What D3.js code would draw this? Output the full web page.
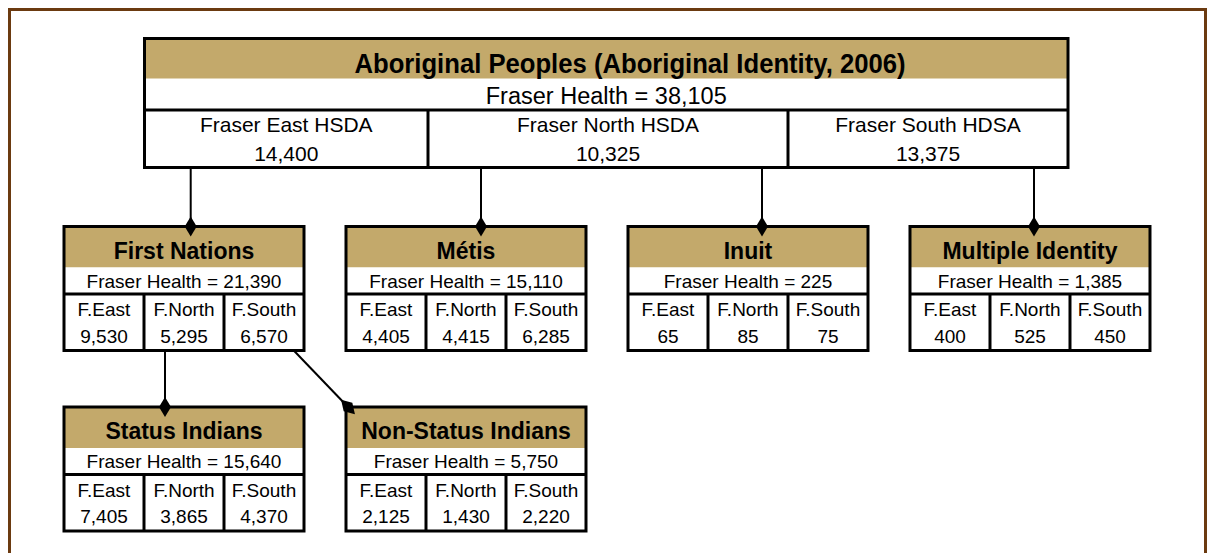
<!DOCTYPE html>
<html>
<head>
<meta charset="utf-8">
<script src="https://cdn.jsdelivr.net/npm/d3@7"></script>
<style>
  body { margin: 0; background: #fff; }
  text { font-family: "Liberation Sans", Arial, sans-serif; fill: #000; }
</style>
</head>
<body>
<div id="chart"></div>
<script>
// data
const title = "Aboriginal Peoples (Aboriginal Identity, 2006)";
const totalLabel = "Fraser Health";
const fhTotal = 38105;
const hsdaNames = ["Fraser East HSDA", "Fraser North HSDA", "Fraser South HDSA"];
const hsdaValues = [14400, 10325, 13375];

const groups = ["First Nations", "Métis", "Inuit", "Multiple Identity", "Status Indians", "Non-Status Indians"];
const groupTotals = [21390, 15110, 225, 1385, 15640, 5750];
const eastValues = [9530, 4405, 65, 400, 7405, 2125];
const northValues = [5295, 4415, 85, 525, 3865, 1430];
const southValues = [6570, 6285, 75, 450, 4370, 2220];
const cellLabels = ["F.East", "F.North", "F.South"];

const W = 1207, H = 553;
const tan = "#c3a96b";
const fmt = d3.format(",");

const svg = d3.select("#chart").append("svg")
  .attr("width", W).attr("height", H);

// brown frame
svg.append("rect")
  .attr("x", 9.5).attr("y", 9.5)
  .attr("width", 1196).attr("height", 600)
  .attr("fill", "none").attr("stroke", "#6b3a10").attr("stroke-width", 3);

// main box
const main = { x0: 144.5, x1: 1068, y0: 38.5, tanBottom: 78.5, rowBottom: 110, y1: 167.5 };
const hsdaBreaks = [main.x0, 428, 788, main.x1];

const mg = svg.append("g");
mg.append("rect").attr("x", main.x0).attr("y", main.y0)
  .attr("width", main.x1 - main.x0).attr("height", main.tanBottom - main.y0)
  .attr("fill", tan);
mg.append("text").attr("x", 630).attr("y", 73)
  .attr("text-anchor", "middle").attr("font-weight", "bold")
  .attr("font-size", 27.5).attr("textLength", 551).attr("lengthAdjust", "spacingAndGlyphs")
  .text(title);
mg.append("text").attr("x", (main.x0 + main.x1) / 2).attr("y", 104)
  .attr("text-anchor", "middle").attr("font-size", 23.5)
  .text(totalLabel + " = " + fmt(fhTotal));

const hsda = mg.selectAll(".hsda").data(hsdaNames).enter().append("g");
hsda.append("text")
  .attr("x", (d, i) => (hsdaBreaks[i] + hsdaBreaks[i + 1]) / 2).attr("y", 132)
  .attr("text-anchor", "middle").attr("font-size", 21)
  .text(d => d);
hsda.append("text")
  .attr("x", (d, i) => (hsdaBreaks[i] + hsdaBreaks[i + 1]) / 2).attr("y", 161)
  .attr("text-anchor", "middle").attr("font-size", 21)
  .text((d, i) => fmt(hsdaValues[i]));

mg.append("line").attr("x1", main.x0).attr("x2", main.x1)
  .attr("y1", main.rowBottom).attr("y2", main.rowBottom)
  .attr("stroke", "#000").attr("stroke-width", 3);
mg.selectAll(".div").data(hsdaBreaks.slice(1, 3)).enter().append("line")
  .attr("x1", d => d).attr("x2", d => d)
  .attr("y1", main.rowBottom).attr("y2", main.y1)
  .attr("stroke", "#000").attr("stroke-width", 3);
mg.append("rect").attr("x", main.x0).attr("y", main.y0)
  .attr("width", main.x1 - main.x0).attr("height", main.y1 - main.y0)
  .attr("fill", "none").attr("stroke", "#000").attr("stroke-width", 3);

// child boxes
const boxW = 240, boxH = 124;
const col = d3.scaleBand().domain([0, 1, 2, 3]).range([64, 1150]).paddingInner(0.1489);
const rowY = [226.5, 407];
const boxes = groups.map((name, i) => ({
  name, i,
  x: col(i < 4 ? i : i - 4),
  y: rowY[i < 4 ? 0 : 1]
}));
const cellX = d3.scaleBand().domain(cellLabels).range([0, boxW]);

function diamond(g, cx, cy, rot) {
  g.append("path")
    .attr("d", "M0,-10L6,0L0,10L-6,0Z")
    .attr("transform", "translate(" + cx + "," + cy + ") rotate(" + rot + ")")
    .attr("fill", "#000");
}

// connectors
const lines = svg.append("g").attr("stroke", "#000").attr("stroke-width", 2);
const connOffset = [126.7, 135, 134, 124];
boxes.slice(0, 4).forEach((b, i) => {
  const cx = b.x + connOffset[i];
  lines.append("line").attr("x1", cx).attr("x2", cx)
    .attr("y1", main.y1).attr("y2", b.y);
});
const fn = boxes[0], st = boxes[4], ns = boxes[5];
lines.append("line").attr("x1", fn.x + 101).attr("x2", fn.x + 101)
  .attr("y1", fn.y + boxH).attr("y2", st.y);
const diag = { x1: fn.x + 224, y1: fn.y + boxH - 6, x2: ns.x + 2, y2: ns.y };
lines.append("line").attr("x1", diag.x1).attr("y1", diag.y1)
  .attr("x2", diag.x2).attr("y2", diag.y2);

const bg = svg.selectAll(".box").data(boxes).enter().append("g")
  .attr("transform", d => "translate(" + d.x + "," + d.y + ")");

bg.append("rect").attr("width", boxW).attr("height", 41).attr("fill", tan);
bg.append("rect").attr("y", 41).attr("width", boxW).attr("height", boxH - 41).attr("fill", "#fff");
bg.append("text").attr("x", boxW / 2).attr("y", 32)
  .attr("text-anchor", "middle").attr("font-weight", "bold").attr("font-size", 23)
  .text(d => d.name);
bg.append("text").attr("x", boxW / 2).attr("y", 61)
  .attr("text-anchor", "middle").attr("font-size", 19)
  .text(d => totalLabel + " = " + fmt(groupTotals[d.i]));
bg.append("line").attr("x1", 0).attr("x2", boxW).attr("y1", 67.5).attr("y2", 67.5)
  .attr("stroke", "#000").attr("stroke-width", 3);
bg.selectAll(".cdiv").data(cellLabels.slice(1)).enter().append("line")
  .attr("x1", d => cellX(d)).attr("x2", d => cellX(d))
  .attr("y1", 67.5).attr("y2", boxH)
  .attr("stroke", "#000").attr("stroke-width", 3);
bg.each(function(b) {
  const vals = [eastValues[b.i], northValues[b.i], southValues[b.i]];
  const g = d3.select(this);
  cellLabels.forEach((c, j) => {
    const cx = cellX(c) + cellX.bandwidth() / 2;
    g.append("text").attr("x", cx).attr("y", 89.5)
      .attr("text-anchor", "middle").attr("font-size", 19).text(c);
    g.append("text").attr("x", cx).attr("y", 116)
      .attr("text-anchor", "middle").attr("font-size", 19).text(fmt(vals[j]));
  });
});
bg.append("rect").attr("width", boxW).attr("height", boxH)
  .attr("fill", "none").attr("stroke", "#000").attr("stroke-width", 3);

// diamonds on top
boxes.slice(0, 4).forEach((b, i) => diamond(svg, b.x + connOffset[i], b.y, 0));
diamond(svg, fn.x + 101, st.y, 0);
const ang = Math.atan2(diag.y2 - diag.y1, diag.x2 - diag.x1) * 180 / Math.PI;
diamond(svg, diag.x2, diag.y2, ang - 90);
</script>
</body>
</html>
